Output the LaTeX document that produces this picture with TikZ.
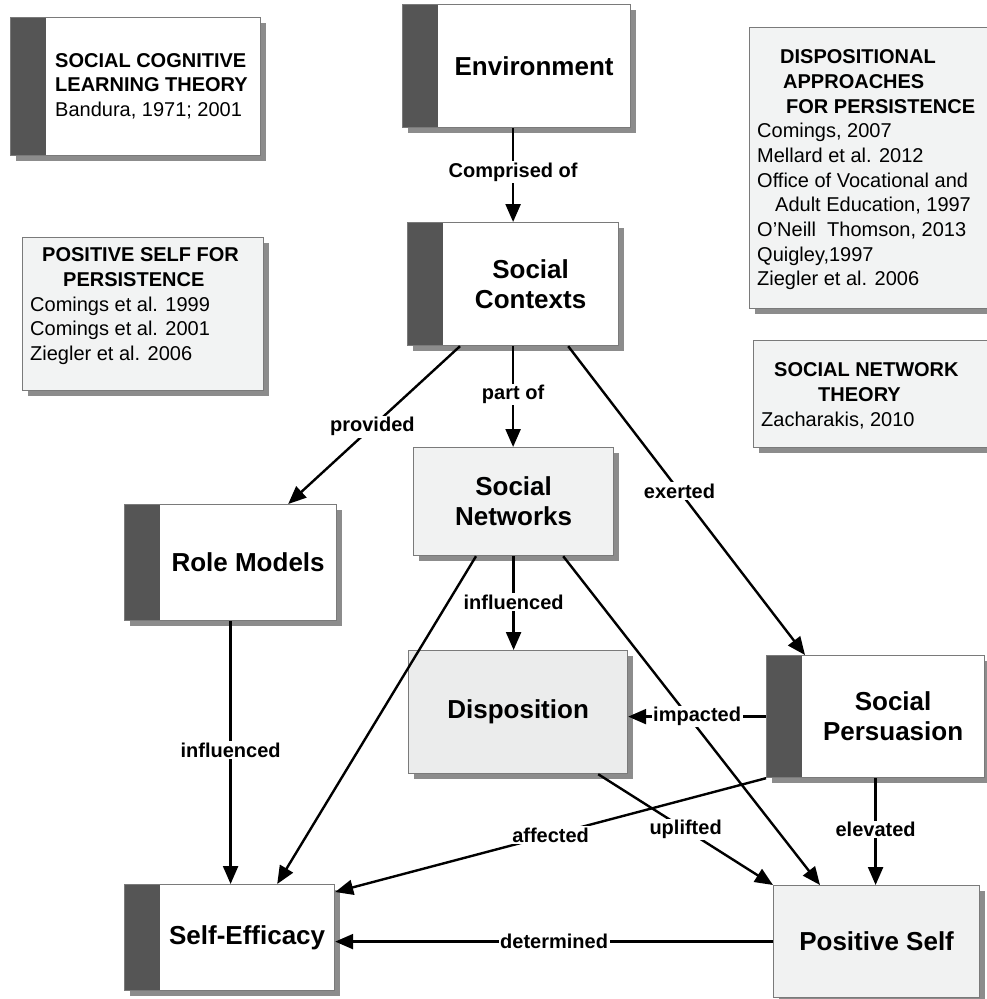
\documentclass[tikz,border=0pt]{standalone}
\usepackage{fontspec}
\setmainfont{Liberation Sans}
\usetikzlibrary{arrows.meta,calc,shadows}
\definecolor{barcol}{HTML}{555555}
\definecolor{shadowcol}{HTML}{8C8C8C}
\definecolor{edgecol}{HTML}{7A7A7A}
\definecolor{palefill}{HTML}{F1F2F2}
\definecolor{dispfill}{HTML}{EBECEC}
\definecolor{reffill}{HTML}{F2F3F3}
\begin{document}
\begin{tikzpicture}[x=1pt,y=-1pt,
  boxshadow/.style={drop shadow={shadow xshift=5pt,shadow yshift=-5pt,fill=shadowcol,opacity=1}},
  cbox/.style={draw=edgecol,line width=1.2pt,fill=white,boxshadow,anchor=north west,inner sep=0pt},
  barred/.style={cbox,path picture={\fill[barcol] (path picture bounding box.north west) rectangle ([xshift=35pt]path picture bounding box.south west);}},
  pale/.style={cbox,fill=palefill},
  refbox/.style={cbox,fill=reffill},
  ntitle/.style={font=\bfseries\fontsize{26}{30}\selectfont,align=center,inner sep=0pt},
  reftext/.style={font=\fontsize{20}{24.7}\selectfont,align=left,anchor=north west,inner sep=0pt},
  elabel/.style={font=\bfseries\fontsize{20}{24}\selectfont,fill=white,inner sep=1.5pt},
  link/.style={line width=2.4pt,-{Triangle[length=18pt,width=15pt]}}
]
\useasboundingbox (0,0) rectangle (986,999);

% reference boxes
\node[barred, minimum width=250, minimum height=138] (sclt) at (10,17) {};
\node[reftext] (sclttext) at (55,53) {\textbf{SOCIAL COGNITIVE}\\\textbf{LEARNING THEORY}\\Bandura, 1971; 2001};

\node[refbox, minimum width=241, minimum height=281] (dap) at (749,27) {};
\node[reftext] (daptext) at (757,49.5) {\hspace*{23pt}\textbf{DISPOSITIONAL}\\
  \hspace*{26pt}\textbf{APPROACHES}\\
  \hspace*{29pt}\textbf{FOR PERSISTENCE}\\
  Comings, 2007\\
  Mellard et al. 2012\\
  Office of Vocational and\\
  \hspace*{18pt}Adult Education, 1997\\
  O'Neill\ \ Thomson, 2013\\
  Quigley,1997\\
  Ziegler et al. 2006};

\node[refbox, minimum width=241, minimum height=153] (psp) at (22,237) {};
\node[reftext] (psptext) at (30,247.5) {\hspace*{12pt}\textbf{POSITIVE SELF FOR}\\
  \hspace*{33pt}\textbf{PERSISTENCE}\\
  Comings et al. 1999\\
  Comings et al. 2001\\
  Ziegler et al. 2006};

\node[refbox, minimum width=237, minimum height=107] (snt) at (753,340) {};
\node[reftext] (snttext) at (761,362.5) {\hspace*{13pt}\textbf{SOCIAL NETWORK}\\
  \hspace*{57pt}\textbf{THEORY}\\
  Zacharakis, 2010};

% concept boxes
\node[barred, minimum width=228, minimum height=123,
  label={[ntitle,xshift=17.5pt]center:Environment}] (env) at (402,4) {};
\node[barred, minimum width=211, minimum height=123,
  label={[ntitle,xshift=17.5pt]center:Social\\Contexts}] (sc) at (407,222) {};
\node[barred, minimum width=212, minimum height=116,
  label={[ntitle,xshift=17.5pt]center:Role Models}] (rm) at (124,504) {};
\node[pale, minimum width=200, minimum height=108, ntitle] (sn) at (413,447) {Social\\Networks};
\node[cbox, fill=dispfill, minimum width=219, minimum height=123, ntitle] (dis) at (408,650) {Disposition};
\node[barred, minimum width=218, minimum height=122,
  label={[ntitle,xshift=17.5pt]center:Social\\Persuasion}] (sp) at (766,655) {};
\node[barred, minimum width=210, minimum height=106,
  label={[ntitle,xshift=17.5pt]center:Self-Efficacy}] (se) at (124,884) {};
\node[pale, minimum width=206, minimum height=112, ntitle] (ps) at (773,885) {Positive Self};

% connectors
\draw[link] (sc.north |- env.south) -- node[elabel,pos=0.47]{Comprised of} (sc.north);
\draw[link] ([xshift=53pt]sc.south west) -- node[elabel,pos=0.51]{provided} ([xshift=-49pt]rm.north east);
\draw[link] (sc.south) -- node[elabel,pos=0.48]{part of} (sc.south |- sn.north);
\draw[link] ([xshift=-51pt]sc.south east) -- node[elabel,pos=0.47]{exerted} ([xshift=39pt]sp.north west);
\draw[link] (sn.south) -- node[elabel,pos=0.49]{influenced} (sn.south |- dis.north);
\draw[link] ([xshift=63pt]sn.south west) -- ([xshift=-58pt]se.north east);
\draw[link] ([xshift=-51pt]sn.south east) -- ([xshift=47pt]ps.north west);
\draw[link] (sp.west) -- node[elabel,pos=0.5]{impacted} (sp.west -| dis.east);
\draw[link] (rm.south) -- node[elabel,pos=0.49]{influenced} (rm.south |- se.north);
\draw[link] (sp.south west) -- node[elabel,pos=0.5]{affected} ([yshift=-8pt]se.north east);
\draw[link] ([xshift=-30pt]dis.south east) -- node[elabel,pos=0.5]{uplifted} (ps.north west);
\draw[link] (sp.south) -- node[elabel,pos=0.48]{elevated} (sp.south |- ps.north);
\draw[link] (ps.west) -- node[elabel,pos=0.5]{determined} (ps.west -| se.east);
\end{tikzpicture}
\end{document}
